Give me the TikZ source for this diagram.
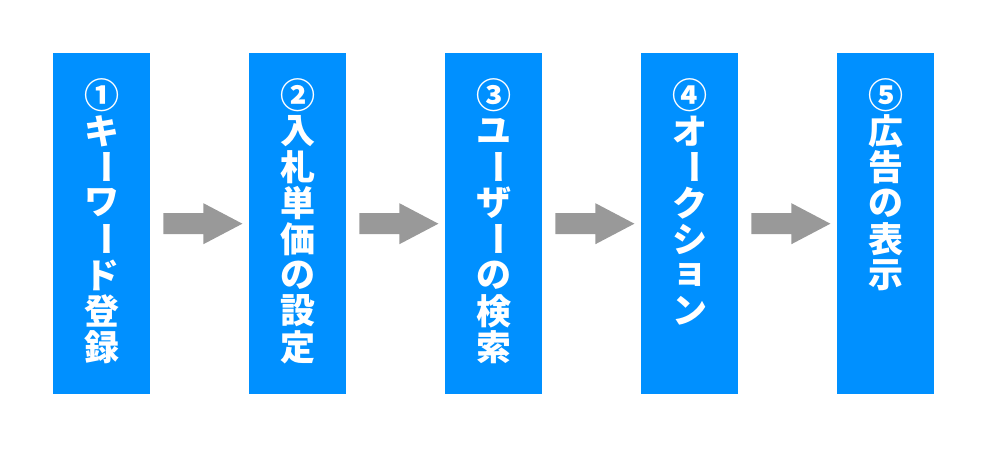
\documentclass[tikz,border=0pt]{standalone}
\usepackage{fontspec}
\usetikzlibrary{calc}
\newfontfamily\cjk{Noto Sans CJK JP}[BoldFont={Noto Sans CJK JP Black}]
\definecolor{stepblue}{RGB}{0,144,255}
\definecolor{arrowgray}{RGB}{153,153,153}
\newcommand\vbar{\rotatebox[origin=c]{-90}{ー}}
\begin{document}
\begin{tikzpicture}[x=1pt,y=-1pt,
  stepbox/.style={fill=stepblue, draw=none, minimum width=97pt, minimum height=341pt, inner sep=0pt, anchor=north west},
  ch/.style={text=white, font=\cjk\bfseries\fontsize{35}{35}\selectfont, inner sep=0pt, anchor=center},
  blockarrow/.style={fill=arrowgray, draw=none}]
\useasboundingbox (0,0) rectangle (1000,450);
\foreach \i/\x/\chars in {
  1/53/{①,キ,\vbar,ワ,\vbar,ド,登,録},
  2/249/{②,入,札,単,価,の,設,定},
  3/445/{③,ユ,\vbar,ザ,\vbar,の,検,索},
  4/641/{④,オ,\vbar,ク,シ,ョ,ン},
  5/837/{⑤,広,告,の,表,示}}{
  \node[stepbox] (b\i) at (\x,53) {};
  \foreach \c [count=\k] in \chars {
    \node[ch] (t\i-\k) at ($(b\i.north)+(0,6+36*\k)$) {\c};
  }
}
\foreach \i in {1,2,3,4}{
  \path (b\i.east) ++(13,0) coordinate (s\i);
  \fill[blockarrow] (s\i) ++(0,-10.5) -- ++(40,0) -- ++(0,-10) -- ++(39,20.5) -- ++(-39,20.5) -- ++(0,-10) -- ++(-40,0) -- cycle;
}
\end{tikzpicture}
\end{document}
